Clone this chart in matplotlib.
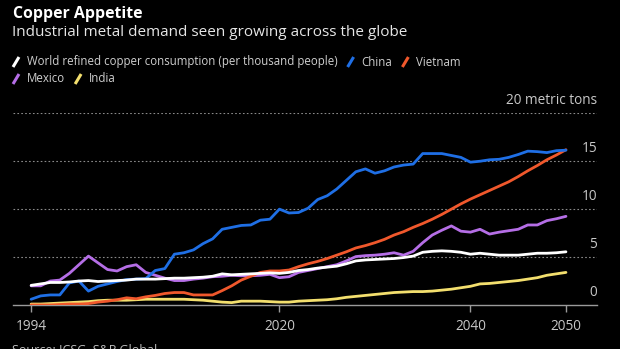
import matplotlib
matplotlib.use("Agg")
import matplotlib.pyplot as plt
from matplotlib.lines import Line2D
import numpy as np

years = list(range(1994, 2051))

world = [2.05, 2.2, 2.35, 2.35, 2.4, 2.5, 2.55, 2.45, 2.5, 2.55,
         2.6, 2.7, 2.7, 2.7, 2.75, 2.8, 2.8, 2.85, 2.9, 3.0,
         3.25, 3.15, 3.2, 3.25, 3.3, 3.35, 3.3, 3.4, 3.6, 3.7,
         3.85, 3.95, 4.05, 4.3, 4.6, 4.7, 4.75, 4.8, 4.85, 4.95,
         5.1, 5.5, 5.6, 5.65, 5.6, 5.5, 5.3, 5.4, 5.3, 5.2,
         5.2, 5.2, 5.3, 5.4, 5.4, 5.45, 5.55]

china = [0.6, 0.95, 1.05, 1.05, 2.3, 2.5, 1.45, 1.95, 2.2, 2.45,
         2.65, 2.7, 2.75, 3.6, 3.8, 5.3, 5.45, 5.75, 6.4, 6.9,
         7.9, 8.1, 8.3, 8.35, 8.85, 8.95, 10.0, 9.6, 9.65, 10.1,
         11.0, 11.4, 12.1, 13.0, 13.9, 14.2, 13.75, 14.0, 14.4, 14.6,
         14.7, 15.8, 15.8, 15.8, 15.6, 15.4, 14.9, 15.0, 15.15, 15.2,
         15.4, 15.7, 16.05, 16.0, 15.9, 16.1, 16.15]

vietnam = [0.0, 0.0, 0.0, 0.05, 0.1, 0.1, 0.15, 0.3, 0.4, 0.55,
           0.75, 0.65, 0.85, 1.0, 1.2, 1.3, 1.3, 1.05, 1.05, 1.05,
           1.5, 2.0, 2.6, 3.0, 3.4, 3.55, 3.55, 3.65, 4.0, 4.3,
           4.55, 4.85, 5.2, 5.55, 5.95, 6.2, 6.5, 6.85, 7.3, 7.65,
           8.1, 8.5, 8.95, 9.45, 10.0, 10.55, 11.05, 11.5, 11.95, 12.4,
           12.85, 13.4, 14.0, 14.55, 15.15, 15.65, 16.2]

mexico = [2.0, 2.0, 2.5, 2.6, 3.3, 4.2, 5.1, 4.4, 3.7, 3.55,
          4.0, 4.2, 3.4, 3.1, 2.8, 2.55, 2.55, 2.7, 2.8, 2.95,
          3.0, 3.1, 3.05, 3.05, 3.1, 3.2, 2.85, 2.95, 3.4, 3.6,
          3.8, 4.0, 4.2, 4.6, 5.05, 5.15, 5.2, 5.3, 5.45, 5.2,
          5.6, 6.5, 7.3, 7.8, 8.25, 7.7, 7.6, 7.9, 7.4, 7.6,
          7.75, 7.9, 8.35, 8.35, 8.8, 9.0, 9.25]

india = [0.1, 0.1, 0.15, 0.2, 0.25, 0.3, 0.35, 0.45, 0.5, 0.5,
         0.5, 0.55, 0.6, 0.6, 0.6, 0.6, 0.6, 0.55, 0.5, 0.4,
         0.3, 0.25, 0.4, 0.4, 0.4, 0.35, 0.3, 0.3, 0.4, 0.45,
         0.5, 0.55, 0.65, 0.8, 0.9, 1.0, 1.1, 1.2, 1.3, 1.35,
         1.4, 1.4, 1.45, 1.55, 1.65, 1.8, 1.95, 2.2, 2.25, 2.35,
         2.45, 2.55, 2.7, 2.85, 3.1, 3.25, 3.4]

series_names = ["World refined copper consumption (per thousand people)",
                "China", "Vietnam", "Mexico", "India"]
series_values = [world, china, vietnam, mexico, india]
series_colors = ["#ffffff", "#1f6fe5", "#f0582c", "#b56ee6", "#f3df6e"]

x_ticks = [1994, 2020, 2040, 2050]
y_ticks = [0, 5, 10, 15, 20]
y_labels = ["0", "5", "10", "15", "20 metric tons"]

FONT = "Open Sans"
W, H = 620, 349
fig = plt.figure(figsize=(W / 100, H / 100), dpi=100, facecolor="black")
ax = fig.add_axes([13 / W, 1 - 305 / H, (597 - 13) / W, (305 - 113.3) / H])
ax.set_facecolor("black")

# draw in reverse so World sits on top of the others where they cross
for name, vals, col in reversed(list(zip(series_names, series_values, series_colors))):
    ax.plot(years, vals, color=col, lw=2.0, solid_joinstyle="round",
            solid_capstyle="round", zorder=3)

ax.set_xlim(1992.1, 2053.25)
ax.set_ylim(0, 20)
for s in ["top", "right", "left"]:
    ax.spines[s].set_visible(False)
ax.spines["bottom"].set_color("#9a9a9a")
ax.spines["bottom"].set_linewidth(1.0)

ax.set_yticks(y_ticks)
ax.set_yticklabels([])
ax.tick_params(axis="y", length=0)
for v in y_ticks[1:]:
    ax.axhline(v, color="#8a8a8a", lw=0.8, ls=(0, (1.5, 2.0)), zorder=1)

for v, lab in zip(y_ticks, y_labels):
    ax.text(1.0, v + 0.55, lab, transform=ax.get_yaxis_transform(),
            ha="right", va="bottom", color="#c8c8c8", fontsize=9.8,
            family=FONT)

ax.set_xticks(x_ticks)
ax.set_xticklabels([str(t) for t in x_ticks], family=FONT, fontsize=9.8,
                   color="#c8c8c8")
ax.tick_params(axis="x", length=5, width=1, color="#9a9a9a", pad=5)

# header
fig.text(13 / W, 1 - 14 / H, "Copper Appetite", color="white", fontsize=11.4,
         fontweight="bold", family=FONT, va="center", ha="left")
fig.text(12 / W, 1 - 33 / H,
         "Industrial metal demand seen growing across the globe",
         color="#e6e6e6", fontsize=11, family=FONT, va="center", ha="left")

# legend with slanted swatches
fig.canvas.draw()
renderer = fig.canvas.get_renderer()
rows = [[0, 1, 2], [3, 4]]
row_y = [62, 79]
for row, ry in zip(rows, row_y):
    x = 13
    for i in row:
        fig.add_artist(Line2D([x / W, (x + 6) / W],
                              [1 - (ry + 5) / H, 1 - (ry - 5) / H],
                              transform=fig.transFigure,
                              color=series_colors[i], lw=2.2,
                              solid_capstyle="butt"))
        t = fig.text((x + 14) / W, 1 - ry / H, series_names[i],
                     color="#cfcfcf", fontsize=8.3, family=FONT,
                     va="center", ha="left")
        bb = t.get_window_extent(renderer)
        x = bb.x1 + 10

fig.text(12 / W, 1 - 350 / H, "Source: ICSG, S&P Global", color="#bdbdbd",
         fontsize=9, family=FONT, va="center", ha="left")

fig.savefig("out.png", dpi=100, facecolor="black")
